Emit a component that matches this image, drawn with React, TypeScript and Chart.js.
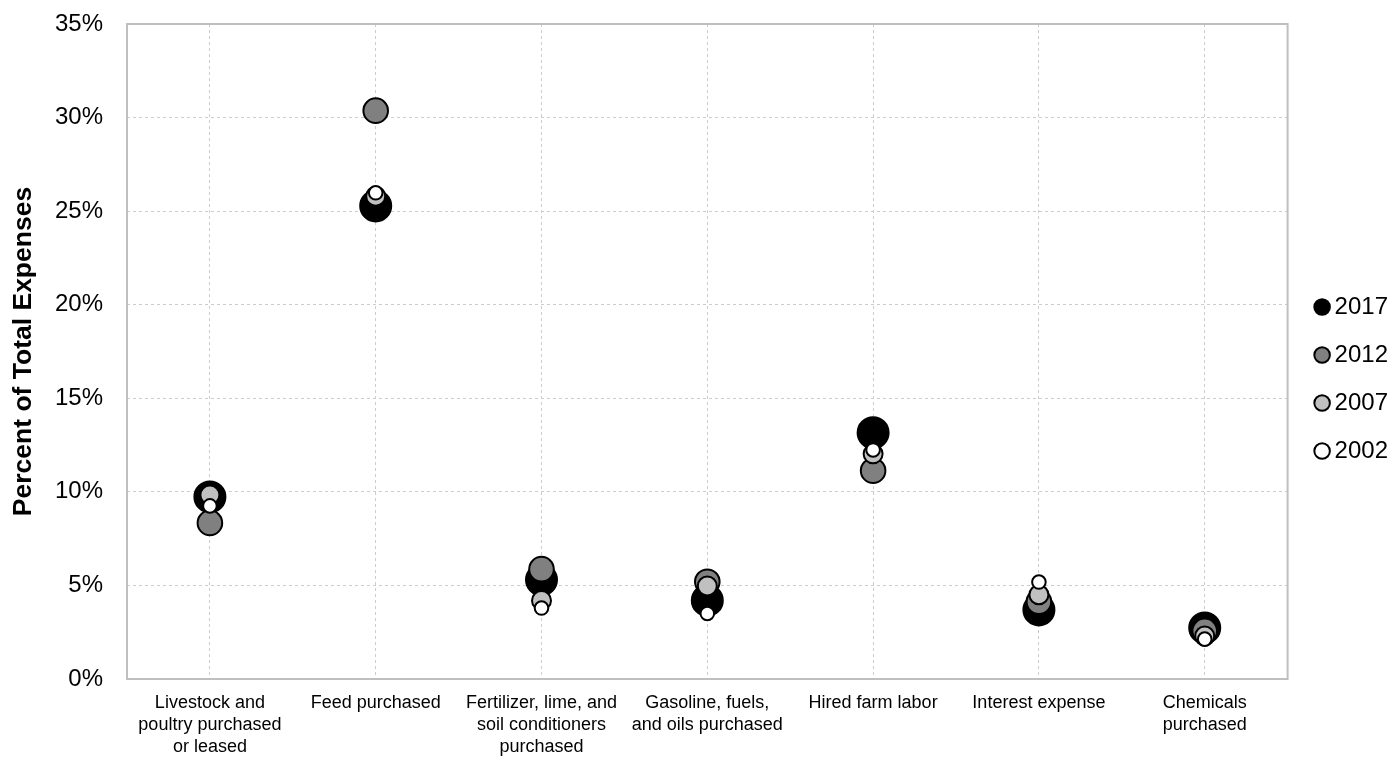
import { useEffect, useRef } from "react";
import { Chart, ChartConfiguration, Plugin, registerables } from "chart.js";

Chart.register(...registerables);

const FONT = "'Liberation Sans', Arial, sans-serif";

const categories = [
  ["Livestock and", "poultry purchased", "or leased"],
  "Feed purchased",
  ["Fertilizer, lime, and", "soil conditioners", "purchased"],
  ["Gasoline, fuels,", "and oils purchased"],
  "Hired farm labor",
  "Interest expense",
  ["Chemicals", "purchased"],
];

const years = ["2017", "2012", "2007", "2002"];
const values2017 = [9.73, 25.28, 5.3, 4.2, 13.16, 3.69, 2.73];
const values2012 = [8.34, 30.37, 5.87, 5.2, 11.13, 4.13, 2.57];
const values2007 = [9.83, 25.8, 4.2, 4.97, 12.03, 4.5, 2.3];
const values2002 = [9.25, 25.98, 3.79, 3.5, 12.24, 5.18, 2.13];

const fills = ["#000000", "#808080", "#c0c0c0", "#ffffff"];
const radii = [15.5, 12.3, 9.5, 6.8];

// grey frame round the plot area
const framePlugin: Plugin<"line"> = {
  id: "frame",
  beforeDatasetsDraw(chart) {
    const { ctx, chartArea: a } = chart;
    ctx.save();
    ctx.strokeStyle = "#bfbfbf";
    ctx.lineWidth = 2;
    ctx.strokeRect(a.left, a.top, a.width, a.height);
    ctx.restore();
  },
};

const App = () => {
  const canvasRef = useRef<HTMLCanvasElement | null>(null);
  const chartRef = useRef<Chart<"line"> | null>(null);

  useEffect(() => {
    if (!canvasRef.current) return;

    const series = [values2017, values2012, values2007, values2002];
    const config: ChartConfiguration<"line"> = {
      type: "line",
      data: {
        labels: categories,
        datasets: series.map((data, i) => ({
          label: years[i],
          data,
          order: series.length - i,
          showLine: false,
          pointRadius: radii[i],
          pointHoverRadius: radii[i],
          pointBackgroundColor: fills[i],
          pointBorderColor: "#000000",
          pointBorderWidth: 2,
          backgroundColor: fills[i],
          borderColor: "#000000",
        })),
      },
      options: {
        responsive: true,
        maintainAspectRatio: false,
        animation: false,
        plugins: {
          tooltip: { enabled: false },
          legend: {
            position: "right",
            reverse: true,
            labels: {
              usePointStyle: true,
              pointStyle: "circle",
              boxWidth: 1,
              boxHeight: 11,
              padding: 24,
              color: "#000",
              font: { size: 24, family: FONT },
            },
          },
        },
        scales: {
          x: {
            offset: true,
            grid: { offset: false, color: "#cccccc", drawTicks: false },
            border: { display: false, dash: [3, 3] },
            ticks: {
              color: "#000",
              font: { size: 18, family: FONT, lineHeight: 1.22 },
              padding: 13,
              maxRotation: 0,
              autoSkip: false,
            },
            afterFit: (s) => {
              s.height = 79;
            },
          },
          y: {
            min: 0,
            max: 35,
            grid: { color: "#cccccc", drawTicks: false },
            border: { display: false, dash: [3, 3] },
            ticks: {
              stepSize: 5,
              callback: (v) => `${v}%`,
              color: "#000",
              font: { size: 24, family: FONT },
              padding: 24,
            },
            title: {
              display: true,
              text: "Percent of Total Expenses",
              color: "#000",
              font: { size: 26.5, weight: "bold", family: FONT },
              padding: { top: 8, bottom: 0 },
            },
            afterFit: (s) => {
              s.width = 127;
              s.paddingTop = 24;
            },
          },
          y2: {
            position: "right",
            display: true,
            grid: { display: false },
            ticks: { display: false },
            border: { display: false },
            afterFit: (s) => {
              s.width = 10;
            },
          },
        },
      },
      plugins: [framePlugin],
    };

    chartRef.current = new Chart(canvasRef.current, config);

    return () => {
      chartRef.current?.destroy();
    };
  }, []);

  return (
    <div
      style={{
        position: "fixed",
        left: 0,
        top: 0,
        width: 1398,
        height: 758,
        background: "#fff",
      }}
    >
      <canvas ref={canvasRef} />
    </div>
  );
};

export default App;
